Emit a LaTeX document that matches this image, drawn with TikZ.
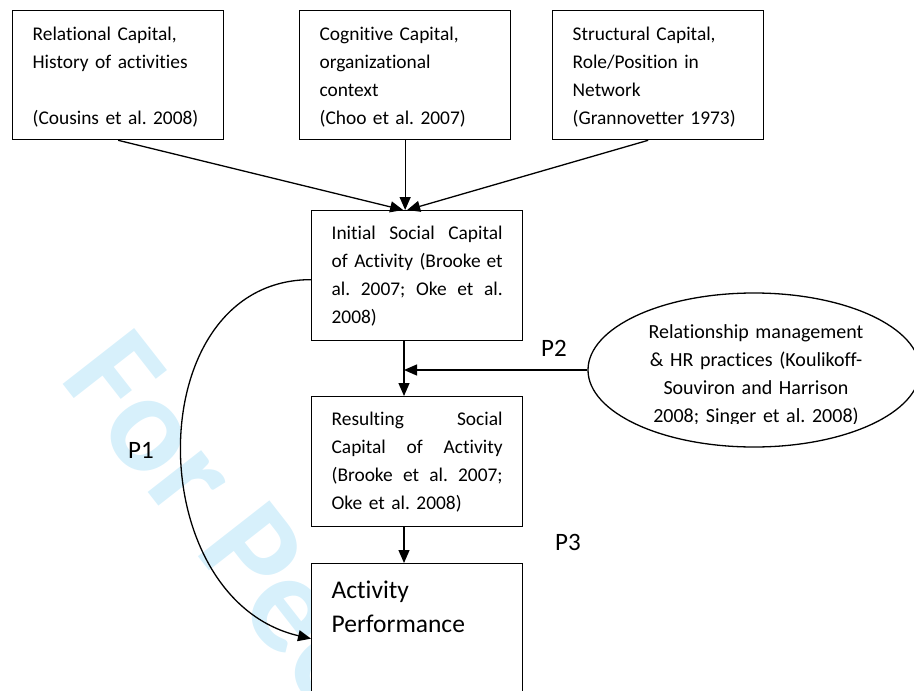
\documentclass[tikz,border=0pt]{standalone}
\usepackage{fontspec}
\setmainfont{Carlito}[Ligatures={NoCommon}]
\usetikzlibrary{arrows.meta,shapes.geometric}
\definecolor{wmblue}{RGB}{215,240,251}
\frenchspacing
\begin{document}
\begin{tikzpicture}[x=1pt,y=-1pt,
  box/.style={draw, line width=1.3pt, fill=white, anchor=north west, inner xsep=20pt, inner ysep=0pt,
    text width=171pt, align=left, font=\fontsize{19.4}{28}\selectfont},
  conn/.style={line width=1.3pt, -{Triangle[length=13pt,width=11pt]}},
  lab/.style={anchor=base west, inner sep=0pt, font=\fontsize{25}{30}\selectfont}]
\useasboundingbox (0,0) rectangle (914,691);
\begin{scope}
  \clip (0,0) rectangle (914,691);
  \node[anchor=base west, rotate=-52, inner sep=0pt, text=wmblue,
    font=\fontsize{140}{140}\selectfont\bfseries] (wm) at (58,378) {For Peer Review};
\end{scope}
% top boxes
\node[box, text height=30pt, text depth=99pt] (rel) at (12,10)
  {Relational Capital,\\History of activities\\\mbox{}\\(Cousins et al. 2008)};
\node[box, text height=30pt, text depth=99pt] (cog) at (299,10)
  {Cognitive Capital,\\organizational\\context\\(Choo et al. 2007)};
\node[box, text height=30pt, text depth=99pt] (str) at (552,10)
  {Structural Capital,\\Role/Position in\\Network\\(Grannovetter 1973)};
% middle column
\node[box, text height=29pt, text depth=101pt] (init) at (311,210)
  {Initial\hfill Social\hfill Capital\\of Activity (Brooke\hfill et\\al.\hfill 2007;\hfill Oke\hfill et\hfill al.\\2008)};
\node[box, text height=29pt, text depth=101pt] (res) at (311,396)
  {Resulting\hfill Social\\Capital\hfill of\hfill Activity\\(Brooke\hfill et\hfill al.\hfill 2007;\\Oke et al. 2008)};
\node[box, text height=35pt, text depth=115pt, font=\fontsize{25.5}{34}\selectfont] (act) at (311,563)
  {Activity\\Performance};
% ellipse
\node[draw, ellipse, line width=1.3pt, fill=white, minimum width=332pt, minimum height=154pt, inner sep=0pt] (ell) at (754,370) {};
\begin{scope}
  \clip (585,290) rectangle (914,423.5);
  \node[anchor=base, inner sep=0pt, text width=240pt, align=center, font=\fontsize{20}{28}\selectfont] (elltxt) at (756,338)
    {Relationship management\\\& HR practices (Koulikoff-\\Souviron and Harrison\\2008; Singer et al. 2008)};
\end{scope}
\coordinate (spine) at (404,0);
% connectors
\draw[conn] (rel.south) -- ([xshift=-14pt]init.north);
\draw[conn] (cog.south) -- (cog.south |- init.north);
\draw[conn] ([xshift=-10pt]str.south) -- ([xshift=-10pt]init.north);
\draw[conn] (init.south -| spine) -- (res.north -| spine);
\draw[conn] (ell.west) -- (ell.west -| spine);
\draw[conn] (res.south -| spine) -- (act.north -| spine);
\draw[conn] ([yshift=-4pt]init.west) .. controls +(-172,0) and +(-172,-40) .. (act.west);
% labels
\node[lab] (p1) at (128,458) {P1};
\node[lab] (p2) at (541,356) {P2};
\node[lab] (p3) at (555,550) {P3};
\end{tikzpicture}
\end{document}
